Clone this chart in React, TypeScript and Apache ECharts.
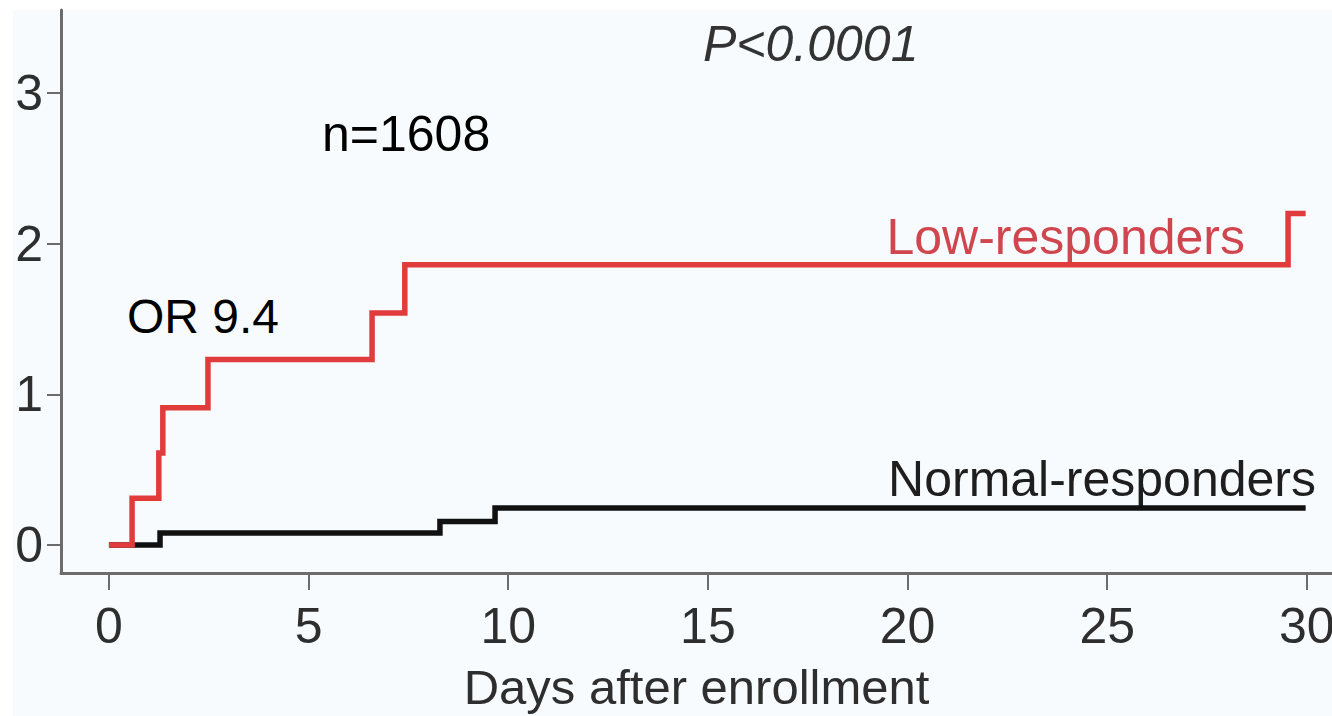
import React, { useEffect, useRef } from "react";
import * as echarts from "echarts";

// Cumulative event curves: [day, cumulative value]
const lowResponders: [number, number][] = [
  [0, 0],
  [0.58, 0.31],
  [1.25, 0.61],
  [1.35, 0.91],
  [2.48, 1.23],
  [6.59, 1.54],
  [7.41, 1.86],
  [29.53, 2.2],
  [29.97, 2.2],
];

const normalResponders: [number, number][] = [
  [0, 0],
  [1.28, 0.08],
  [8.29, 0.155],
  [9.67, 0.245],
  [29.97, 0.245],
];

const xTicks = [0, 5, 10, 15, 20, 25, 30];
const yTicks = [0, 1, 2, 3];

const xAxisTitle = "Days after enrollment";
const pValueText = "P<0.0001";
const sampleText = "n=1608";
const oddsText = "OR 9.4";
const lowLabel = "Low-responders";
const normalLabel = "Normal-responders";

const FONT = "'Liberation Sans', Arial, Helvetica, sans-serif";
const RED = "#e23b3b";
const AXIS_GREY = "#6c6c6c";
const LABEL_GREY = "#2e2e2e";

export default function App() {
  const ref = useRef<HTMLDivElement>(null);

  useEffect(() => {
    if (!ref.current) return;
    const chart = echarts.init(ref.current, undefined, { renderer: "svg" });

    chart.setOption({
      animation: false,
      backgroundColor: "#ffffff",
      grid: {
        left: 61,
        top: 10,
        width: 1271,
        height: 563,
        containLabel: false,
        outerBoundsMode: "none",
      },
      xAxis: {
        type: "value",
        min: -1.2,
        max: 30.63,
        name: xAxisTitle,
        nameLocation: "middle",
        nameGap: 91,
        nameTextStyle: { fontFamily: FONT, fontSize: 49, lineHeight: 46, color: LABEL_GREY },
        axisLine: { show: true, onZero: false, lineStyle: { color: AXIS_GREY, width: 3 } },
        axisTick: {
          show: true,
          customValues: xTicks,
          length: 17,
          lineStyle: { color: AXIS_GREY, width: 2 },
        },
        axisLabel: {
          customValues: xTicks,
          margin: 28,
          fontFamily: FONT,
          fontSize: 50,
          color: LABEL_GREY,
          showMinLabel: true,
          showMaxLabel: true,
        },
        splitLine: { show: false },
      },
      yAxis: {
        type: "value",
        min: -0.186,
        max: 3.55,
        axisLine: { show: true, onZero: false, lineStyle: { color: AXIS_GREY, width: 3 } },
        axisTick: {
          show: true,
          customValues: yTicks,
          length: 14,
          lineStyle: { color: AXIS_GREY, width: 2 },
        },
        axisLabel: {
          customValues: yTicks,
          margin: 18,
          fontFamily: FONT,
          fontSize: 50,
          color: LABEL_GREY,
          showMinLabel: true,
          showMaxLabel: true,
        },
        splitLine: { show: false },
      },
      series: [
        {
          name: normalLabel,
          type: "line",
          step: "end",
          data: normalResponders,
          showSymbol: false,
          symbol: "none",
          lineStyle: { color: "#111111", width: 5.5, join: "miter", cap: "butt" },
          z: 3,
        },
        {
          name: lowLabel,
          type: "line",
          step: "end",
          data: lowResponders,
          showSymbol: false,
          symbol: "none",
          lineStyle: { color: RED, width: 5.5, join: "miter", cap: "butt" },
          z: 4,
        },
      ],
      graphic: [
        {
          type: "rect",
          z: -10,
          silent: true,
          shape: { x: 13, y: 10, width: 1319, height: 706 },
          style: { fill: "#f7fbfd" },
        },
        {
          type: "text",
          x: 703,
          y: 44,
          style: {
            text: pValueText,
            font: `italic 50px ${FONT}`,
            fill: "#333333",
            align: "left",
            verticalAlign: "middle",
          },
        },
        {
          type: "text",
          x: 322,
          y: 134,
          style: {
            text: sampleText,
            font: `50px ${FONT}`,
            fill: "#000000",
            align: "left",
            verticalAlign: "middle",
          },
        },
        {
          type: "text",
          x: 127,
          y: 316,
          style: {
            text: oddsText,
            font: `48px ${FONT}`,
            fill: "#000000",
            align: "left",
            verticalAlign: "middle",
          },
        },
        {
          type: "text",
          x: 1245,
          y: 237,
          style: {
            text: lowLabel,
            font: `50px ${FONT}`,
            fill: "#d0464f",
            align: "right",
            verticalAlign: "middle",
          },
        },
        {
          type: "text",
          x: 1316,
          y: 479,
          style: {
            text: normalLabel,
            font: `50px ${FONT}`,
            fill: "#1e1e1e",
            align: "right",
            verticalAlign: "middle",
          },
        },
      ],
    });

    return () => chart.dispose();
  }, []);

  return (
    <div
      ref={ref}
      style={{ position: "fixed", left: 0, top: 0, width: 1332, height: 716 }}
    />
  );
}
